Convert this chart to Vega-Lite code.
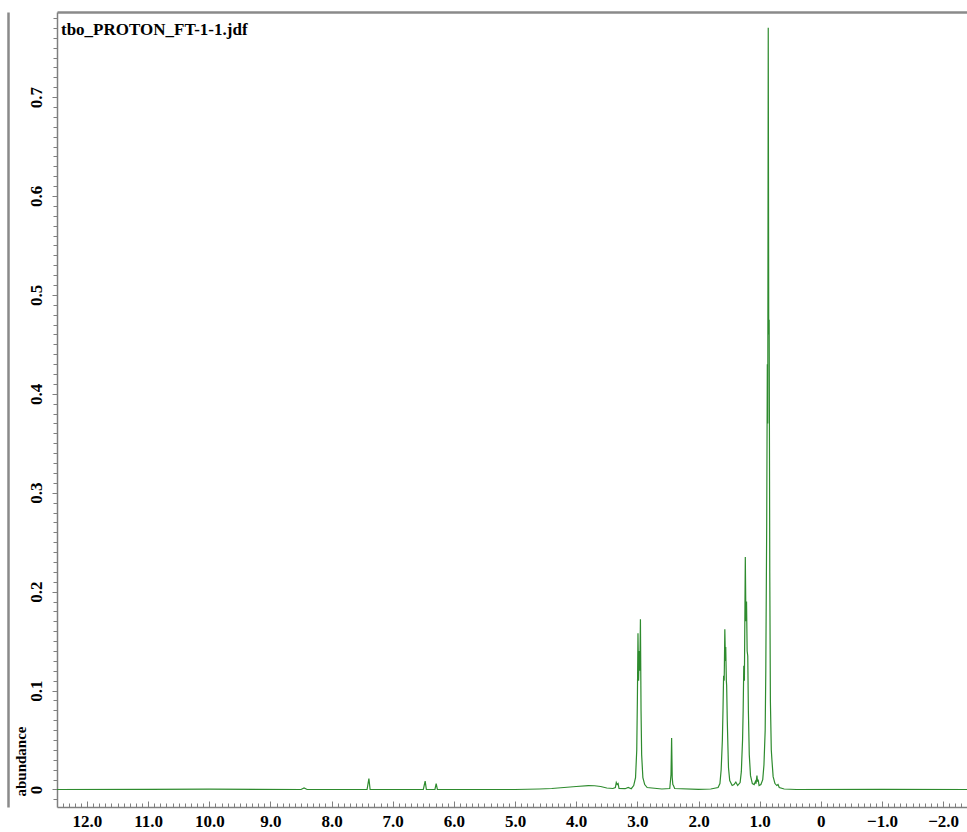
{
  "$schema": "https://vega.github.io/schema/vega-lite/v6.json",
  "width": 910,
  "height": 795,
  "autosize": {"type": "none"},
  "padding": {"left": 57, "top": 12, "right": 0, "bottom": 25},
  "background": "white",
  "config": {"view": {"stroke": null}, "font": "Liberation Serif"},
  "title": {"text": "tbo_PROTON_FT-1-1.jdf", "anchor": "start", "frame": "group", "offset": 0, "dy": 40, "dx": 4, "baseline": "alphabetic", "font": "Liberation Serif", "fontSize": 17, "fontWeight": "bold", "color": "black"},
  "data": {"values": [
    {"ppm": 12.49, "abundance": 0},
    {"ppm": 11.0, "abundance": 0.0002},
    {"ppm": 10.0, "abundance": 0.0003},
    {"ppm": 8.5, "abundance": 0},
    {"ppm": 8.45, "abundance": 0.0015},
    {"ppm": 8.40, "abundance": 0},
    {"ppm": 7.42, "abundance": 0},
    {"ppm": 7.39, "abundance": 0.011},
    {"ppm": 7.37, "abundance": 0},
    {"ppm": 6.50, "abundance": 0},
    {"ppm": 6.47, "abundance": 0.0085},
    {"ppm": 6.45, "abundance": 0},
    {"ppm": 6.31, "abundance": 0},
    {"ppm": 6.29, "abundance": 0.006},
    {"ppm": 6.27, "abundance": 0},
    {"ppm": 5.0, "abundance": 0},
    {"ppm": 4.6, "abundance": 0.0005},
    {"ppm": 4.4, "abundance": 0.001},
    {"ppm": 4.2, "abundance": 0.002},
    {"ppm": 4.0, "abundance": 0.003},
    {"ppm": 3.8, "abundance": 0.004},
    {"ppm": 3.7, "abundance": 0.0038},
    {"ppm": 3.6, "abundance": 0.003},
    {"ppm": 3.5, "abundance": 0.0015},
    {"ppm": 3.4, "abundance": 0.001},
    {"ppm": 3.36, "abundance": 0.002},
    {"ppm": 3.345, "abundance": 0.007},
    {"ppm": 3.33, "abundance": 0.005},
    {"ppm": 3.315, "abundance": 0.006},
    {"ppm": 3.30, "abundance": 0.001},
    {"ppm": 3.2, "abundance": 0.0008},
    {"ppm": 3.15, "abundance": 0.002},
    {"ppm": 3.1, "abundance": 0.0008},
    {"ppm": 3.06, "abundance": 0.004},
    {"ppm": 3.03, "abundance": 0.012},
    {"ppm": 3.01, "abundance": 0.04},
    {"ppm": 3.0, "abundance": 0.09},
    {"ppm": 2.99, "abundance": 0.158},
    {"ppm": 2.98, "abundance": 0.11},
    {"ppm": 2.97, "abundance": 0.14},
    {"ppm": 2.96, "abundance": 0.12},
    {"ppm": 2.95, "abundance": 0.172},
    {"ppm": 2.94, "abundance": 0.08},
    {"ppm": 2.93, "abundance": 0.035},
    {"ppm": 2.91, "abundance": 0.012},
    {"ppm": 2.88, "abundance": 0.005},
    {"ppm": 2.84, "abundance": 0.002},
    {"ppm": 2.6, "abundance": 0.0005},
    {"ppm": 2.47, "abundance": 0.001},
    {"ppm": 2.45, "abundance": 0.015},
    {"ppm": 2.44, "abundance": 0.052},
    {"ppm": 2.43, "abundance": 0.012},
    {"ppm": 2.42, "abundance": 0.005},
    {"ppm": 2.41, "abundance": 0.004},
    {"ppm": 2.39, "abundance": 0.001},
    {"ppm": 2.0, "abundance": 0.0002},
    {"ppm": 1.8, "abundance": 0.0005},
    {"ppm": 1.68, "abundance": 0.002},
    {"ppm": 1.65, "abundance": 0.006},
    {"ppm": 1.63, "abundance": 0.02},
    {"ppm": 1.61, "abundance": 0.05},
    {"ppm": 1.60, "abundance": 0.08},
    {"ppm": 1.59, "abundance": 0.115},
    {"ppm": 1.58, "abundance": 0.11},
    {"ppm": 1.57, "abundance": 0.162},
    {"ppm": 1.56, "abundance": 0.13},
    {"ppm": 1.555, "abundance": 0.144},
    {"ppm": 1.545, "abundance": 0.11},
    {"ppm": 1.54, "abundance": 0.105},
    {"ppm": 1.53, "abundance": 0.07},
    {"ppm": 1.52, "abundance": 0.045},
    {"ppm": 1.51, "abundance": 0.022},
    {"ppm": 1.49, "abundance": 0.009},
    {"ppm": 1.45, "abundance": 0.004},
    {"ppm": 1.42, "abundance": 0.005},
    {"ppm": 1.39, "abundance": 0.0075},
    {"ppm": 1.36, "abundance": 0.004},
    {"ppm": 1.32, "abundance": 0.007},
    {"ppm": 1.30, "abundance": 0.018},
    {"ppm": 1.28, "abundance": 0.05},
    {"ppm": 1.27, "abundance": 0.08},
    {"ppm": 1.26, "abundance": 0.125},
    {"ppm": 1.25, "abundance": 0.11},
    {"ppm": 1.235, "abundance": 0.235},
    {"ppm": 1.225, "abundance": 0.17},
    {"ppm": 1.215, "abundance": 0.19},
    {"ppm": 1.205, "abundance": 0.14},
    {"ppm": 1.195, "abundance": 0.135},
    {"ppm": 1.185, "abundance": 0.08},
    {"ppm": 1.17, "abundance": 0.035},
    {"ppm": 1.15, "abundance": 0.014},
    {"ppm": 1.12, "abundance": 0.006},
    {"ppm": 1.09, "abundance": 0.005},
    {"ppm": 1.07, "abundance": 0.008},
    {"ppm": 1.06, "abundance": 0.006},
    {"ppm": 1.045, "abundance": 0.014},
    {"ppm": 1.035, "abundance": 0.008},
    {"ppm": 1.025, "abundance": 0.01},
    {"ppm": 1.01, "abundance": 0.004},
    {"ppm": 0.98, "abundance": 0.005},
    {"ppm": 0.95, "abundance": 0.01},
    {"ppm": 0.93, "abundance": 0.025},
    {"ppm": 0.91, "abundance": 0.06},
    {"ppm": 0.90, "abundance": 0.12},
    {"ppm": 0.885, "abundance": 0.27},
    {"ppm": 0.875, "abundance": 0.43},
    {"ppm": 0.868, "abundance": 0.37},
    {"ppm": 0.860, "abundance": 0.77},
    {"ppm": 0.852, "abundance": 0.46},
    {"ppm": 0.845, "abundance": 0.475},
    {"ppm": 0.835, "abundance": 0.22},
    {"ppm": 0.825, "abundance": 0.09},
    {"ppm": 0.81, "abundance": 0.04},
    {"ppm": 0.80, "abundance": 0.03},
    {"ppm": 0.78, "abundance": 0.013},
    {"ppm": 0.75, "abundance": 0.006},
    {"ppm": 0.72, "abundance": 0.004},
    {"ppm": 0.70, "abundance": 0.005},
    {"ppm": 0.68, "abundance": 0.002},
    {"ppm": 0.6, "abundance": 0.0005},
    {"ppm": 0.4, "abundance": 0},
    {"ppm": -1.0, "abundance": 0.0002},
    {"ppm": -2.39, "abundance": 0}
  ]},
  "layer": [
    {
      "mark": {"type": "line", "color": "#2e8b2e", "strokeWidth": 1.2},
      "encoding": {
        "x": {"field": "ppm", "type": "quantitative",
          "scale": {"domain": [-2.39, 12.49], "reverse": true, "nice": false, "zero": false},
          "axis": {"orient": "bottom", "values": [12, 11, 10, 9, 8, 7, 6, 5, 4, 3, 2, 1, 0, -1, -2],
            "labelExpr": "datum.value == 0 ? '0' : format(datum.value, '.1f')",
            "title": null, "grid": false, "tickSize": -6, "labelPadding": 12,
            "labelFont": "Liberation Serif", "labelFontSize": 17, "labelFontWeight": "bold", "labelColor": "black",
            "labelFlush": false, "labelOverlap": false,
            "domainColor": "#7f7f7f", "domainWidth": 1.5, "tickColor": "#7f7f7f"}},
        "y": {"field": "abundance", "type": "quantitative",
          "scale": {"domain": [-0.0177, 0.786], "nice": false, "zero": false},
          "axis": {"orient": "left", "values": [0, 0.1, 0.2, 0.3, 0.4, 0.5, 0.6, 0.7],
            "labelExpr": "datum.value == 0 ? '0' : format(datum.value, '.1f')",
            "grid": false, "tickSize": 5, "labelPadding": 11,
            "labelAngle": 270, "labelAlign": "center", "labelBaseline": "alphabetic",
            "labelFont": "Liberation Serif", "labelFontSize": 17, "labelFontWeight": "bold", "labelColor": "black",
            "labelFlush": false, "labelOverlap": false,
            "domainColor": "#7f7f7f", "domainWidth": 1.5, "tickColor": "#7f7f7f",
            "title": "abundance", "titleX": -37, "titleY": 749, "titleAngle": 270,
            "titleAlign": "center", "titleBaseline": "middle",
            "titleFont": "Liberation Serif", "titleFontSize": 15, "titleFontWeight": "bold", "titleColor": "black"}}
      }
    },
    {
      "mark": {"type": "line", "opacity": 0},
      "encoding": {
        "x": {"field": "ppm", "type": "quantitative",
          "scale": {"domain": [-2.39, 12.49], "reverse": true, "nice": false, "zero": false},
          "axis": {"orient": "bottom", "tickCount": 150, "labels": false, "domain": false, "grid": false,
            "title": null, "tickSize": -4, "tickColor": "#7f7f7f"}},
        "y": {"field": "abundance", "type": "quantitative",
          "scale": {"domain": [-0.0177, 0.786], "nice": false, "zero": false},
          "axis": {"orient": "left", "tickCount": 80, "labels": false, "domain": false, "grid": false,
            "title": null, "tickSize": 4, "tickColor": "#7f7f7f"}}
      }
    },
    {
      "mark": {"type": "line", "opacity": 0},
      "encoding": {
        "x": {"field": "ppm", "type": "quantitative",
          "scale": {"domain": [-2.39, 12.49], "reverse": true, "nice": false, "zero": false},
          "axis": {"orient": "top", "ticks": false, "labels": false, "grid": false, "title": null,
            "domainColor": "#8a8a8a", "domainWidth": 2.5}},
        "y": {"field": "abundance", "type": "quantitative",
          "scale": {"domain": [-0.0177, 0.786], "nice": false, "zero": false},
          "axis": {"orient": "left", "offset": 49, "ticks": false, "labels": false, "grid": false, "title": null,
            "domainColor": "#8a8a8a", "domainWidth": 2.5}}
      }
    }
  ],
  "resolve": {"axis": {"x": "independent", "y": "independent"}}
}
